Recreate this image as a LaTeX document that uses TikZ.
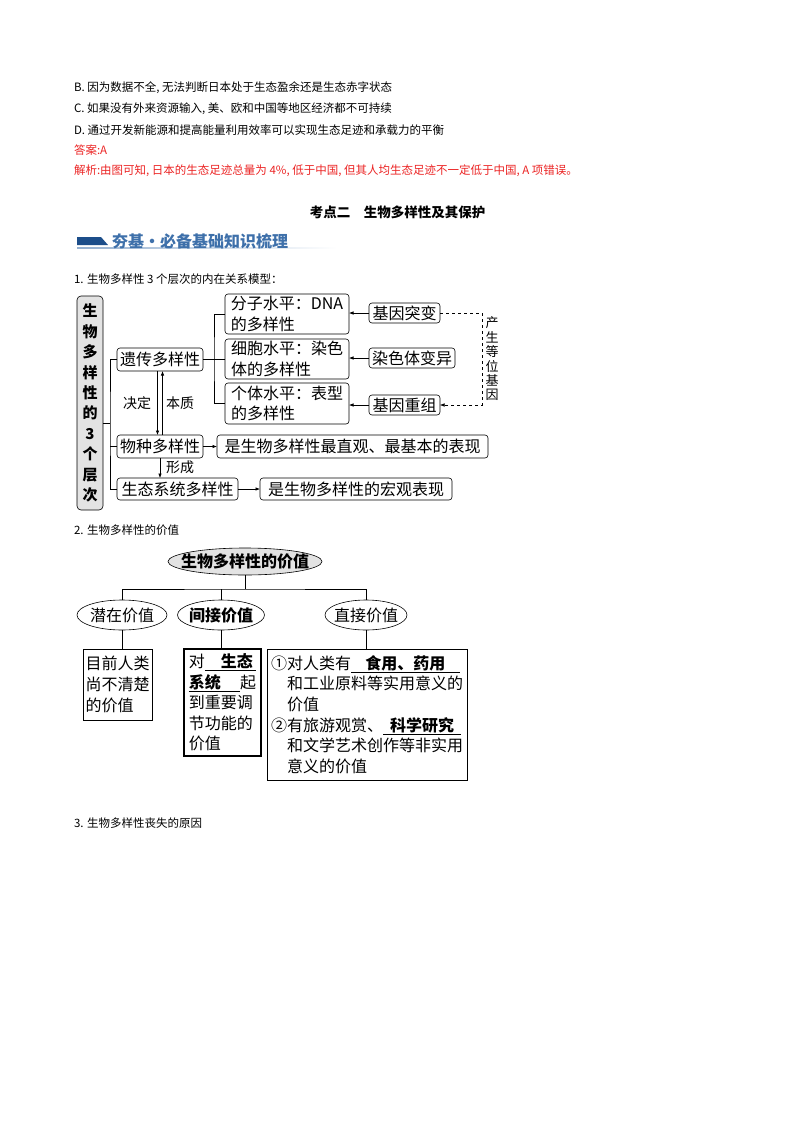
\documentclass[tikz,border=0pt]{standalone}
\usepackage{fontspec}
\setmainfont{Noto Sans CJK SC}
\usetikzlibrary{arrows.meta,shapes.geometric}
\definecolor{ansred}{RGB}{235,35,35}
\definecolor{banblue}{RGB}{28,78,138}
\definecolor{bantext}{RGB}{62,112,170}
\newcommand{\dgfont}{\fontsize{16}{20.6}\selectfont}
\newcommand{\txtfont}{\fontsize{11.5}{14}\selectfont}

\begin{document}
\begin{tikzpicture}[x=1pt,y=-1pt,line width=0.6pt,
    every node/.style={inner sep=0pt,outer sep=0pt},
    txt/.style={anchor=west,font=\txtfont},
    rbox/.style={draw,rounded corners=3pt,font=\dgfont,align=left},
    sbox/.style={draw,font=\dgfont,align=left},
    oval/.style={draw,ellipse,minimum height=30},
    arr/.style={-{Latex[length=4.5pt,width=3.5pt]}},
    small/.style={font=\fontsize{14}{15}\selectfont}]
    \useasboundingbox (0,0) rectangle (800,1132);

    \node[txt] (optb) at (74,88) {B. 因为数据不全, 无法判断日本处于生态盈余还是生态赤字状态};
    \node[txt] (optc) at (74,109) {C. 如果没有外来资源输入, 美、欧和中国等地区经济都不可持续};
    \node[txt] (optd) at (74,130) {D. 通过开发新能源和提高能量利用效率可以实现生态足迹和承载力的平衡};
    \node[txt,text=ansred] (ans) at (74,150) {答案:A};
    \node[txt,text=ansred] (expl) at (74,171) {解析:由图可知, 日本的生态足迹总量为 4\%, 低于中国, 但其人均生态足迹不一定低于中国, A 项错误。};

    \node[font=\fontsize{13.5}{15}\selectfont\bfseries] (head) at (397.5,212) {考点二\hspace{1em}生物多样性及其保护};
    \shade[left color=bantext!55,right color=white] (77,247) rectangle (337,248.5);
    \fill[banblue] (77,237) -- (101,237) -- (108,245) -- (77,245) -- cycle;
    \node[anchor=west,text=bantext,font=\fontsize{16}{18}\selectfont\bfseries] (banner) at (112,241) {夯基·必备基础知识梳理};

    \node[txt] (q1) at (74,279) {1. 生物多样性 3 个层次的内在关系模型：};

    \node[draw,rounded corners=4pt,fill=gray!22,minimum width=26,minimum height=214,align=center,
        font=\fontsize{15}{20.4}\selectfont\bfseries] (side) at (90,403) {生\\物\\多\\样\\性\\的\\3\\个\\层\\次};
    \node[rbox,minimum width=86,minimum height=23] (gen) at (160,359.5) {遗传多样性};
    \node[rbox,minimum width=86,minimum height=23] (spe) at (160,446.5) {物种多样性};
    \node[rbox,minimum width=121,minimum height=22] (eco) at (177.5,489) {生态系统多样性};
    \node[rbox,minimum width=124,minimum height=40] (mol) at (287,314) {分子水平：DNA\\的多样性};
    \node[rbox,minimum width=124,minimum height=40] (cel) at (287,359) {细胞水平：染色\\体的多样性};
    \node[rbox,minimum width=124,minimum height=41] (ind) at (287,403.5) {个体水平：表型\\的多样性};
    \node[rbox,minimum width=71,minimum height=20] (mut) at (404.5,313) {基因突变};
    \node[rbox,minimum width=86,minimum height=20] (chr) at (412,358) {染色体变异};
    \node[rbox,minimum width=71,minimum height=20] (rec) at (404.5,405) {基因重组};
    \node[rbox,minimum width=271,minimum height=23] (spedesc) at (352.5,446.5) {是生物多样性最直观、最基本的表现};
    \node[rbox,minimum width=192,minimum height=22] (ecodesc) at (356,489) {是生物多样性的宏观表现};
    \node[align=center,font=\fontsize{13}{14.4}\selectfont] (allele) at (492,359) {产\\生\\等\\位\\基\\因};
    \node[small] (decide) at (137,403) {决定};
    \node[small] (essence) at (180,403) {本质};
    \node[small] (form) at (180,467) {形成};

    \coordinate (tr) at (110,423);
    \coordinate (br) at (214,359.5);
    \draw (side.east |- tr) -- (tr);
    \draw (gen.west) -| (tr) |- (eco.west);
    \draw (spe.west) -- (spe.west -| tr);
    \draw (gen.east) -- (br);
    \draw (mol.west) -| (br) |- (ind.west);
    \draw (cel.west) -- (cel.west -| br);
    \draw[arr] ([xshift=-2.5]gen.south) -- ([xshift=-2.5]spe.north);
    \draw[arr] ([xshift=2.5]spe.north) -- ([xshift=2.5]gen.south);
    \draw[arr] (spe.south) -- (spe.south |- eco.north);
    \draw[arr] (spe.east) -- (spedesc.west);
    \draw[arr] (eco.east) -- (ecodesc.west);
    \draw[arr] (mut.west) -- (mut.west -| mol.east);
    \draw[arr] (chr.west) -- (chr.west -| cel.east);
    \draw[arr] (rec.west) -- (rec.west -| ind.east);
    \draw[arr,dashed,line width=0.5pt] (mut.east) -- ++(42,0) |- (rec.east);

    \node[txt] (q2) at (74,530) {2. 生物多样性的价值};

    \node[oval,fill=gray!22,minimum width=154,minimum height=27,
        label={[font=\dgfont\bfseries]center:生物多样性的价值}] (val) at (245,561.5) {};
    \node[oval,minimum width=90,label={[font=\dgfont]center:潜在价值}] (pot) at (122,615) {};
    \node[oval,minimum width=87,label={[font=\dgfont\bfseries]center:间接价值}] (indir) at (221,615) {};
    \node[oval,minimum width=82,label={[font=\dgfont]center:直接价值}] (dir) at (366,615) {};
    \node[sbox,minimum width=69,minimum height=71] (potbox) at (117.5,684.5) {目前人类\\尚不清楚\\的价值};
    \node[sbox,line width=1.1pt,minimum width=77,minimum height=107] (indbox) at (222.5,702.5)
        {对\underline{\makebox[3.2em][r]{\textbf{生态}\hspace{0.2em}}}\\\underline{\makebox[3.2em][l]{\textbf{系统}}}起\\到重要调\\节功能的\\价值};
    \node[sbox,minimum width=200,minimum height=131] (dirbox) at (367,714.5)
        {①对人类有\underline{\makebox[6.8em]{\textbf{食用、药用}}}\\
        \hspace*{1em}和工业原料等实用意义的\\
        \hspace*{1em}价值\\
        ②有旅游观赏、\underline{\makebox[4.9em]{\textbf{科学研究}}}\\
        \hspace*{1em}和文学艺术创作等非实用\\
        \hspace*{1em}意义的价值};

    \coordinate (bar) at (245,589);
    \draw (val.south) -- (bar);
    \draw (pot.north) |- (bar) -| (dir.north);
    \draw (indir.north) -- (indir.north |- bar);
    \draw (pot.south) -- (pot.south |- potbox.north);
    \draw (indir.south) -- (indir.south |- indbox.north);
    \draw (dir.south) -- (dir.south |- dirbox.north);

    \node[txt] (q3) at (74,823) {3. 生物多样性丧失的原因};
\end{tikzpicture}
\end{document}
